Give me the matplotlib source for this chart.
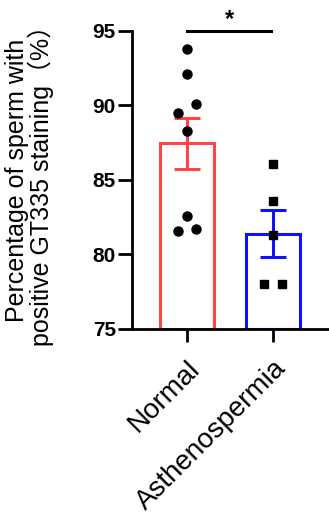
import matplotlib.pyplot as plt
import matplotlib.transforms as mtransforms
import numpy as np

plt.rcParams['font.family'] = ['Liberation Sans', 'Noto Sans CJK SC', 'DejaVu Sans']

groups = ['Normal', 'Asthenospermia']
normalVals = [93.8, 92.1, 90.1, 89.5, 88.3, 82.6, 81.6, 81.7]
normalJitter = [0.0, 0.0, 0.31, -0.31, 0.0, 0.0, -0.31, 0.31]
asthenoVals = [86.1, 83.6, 81.3, 78.0, 78.0]
asthenoJitter = [0.0, 0.0, 0.0, -0.31, 0.31]
means = [87.45, 81.4]
sems = [1.73, 1.6]
barColors = ['#FF4545', '#1010FF']

fig = plt.figure(figsize=(3.29, 5.14), dpi=100)
ax = fig.add_axes([0.401, 0.36, 0.6, 0.58])

x = np.arange(len(groups))
ax.bar(x, np.array(means) - 75, bottom=75, width=0.63, facecolor='none',
       edgecolor=barColors, linewidth=2.2, zorder=2)
for i in range(len(groups)):
    ax.errorbar(x[i], means[i], yerr=sems[i], color=barColors[i], capsize=9.5,
                capthick=2.2, elinewidth=2.2, zorder=3)

ax.plot(x[0] + np.array(normalJitter) * 0.34, normalVals, 'o', color='black',
        markersize=6.5, zorder=4, clip_on=False)
ax.plot(x[1] + np.array(asthenoJitter) * 0.34, asthenoVals, 's', color='black',
        markersize=5.8, zorder=4, clip_on=False)

# significance bar
ax.plot([0, 0.977], [95, 95], color='black', linewidth=2.2, clip_on=False)
ax.text(0.49, 95.3, '*', ha='center', va='baseline', fontsize=17, fontweight='bold')

ax.set_xlim(-0.64, 1.65)
ax.set_ylim(75, 95)
ax.set_yticks([75, 80, 85, 90, 95])
ax.set_xticks(x)
ax.set_xticklabels(groups, rotation=45, ha='right', va='top',
                   rotation_mode='anchor', fontsize=20)
shift = mtransforms.ScaledTranslation(-5 / 72, 0, fig.dpi_scale_trans)
for lab in ax.get_xticklabels():
    lab.set_transform(lab.get_transform() + shift)
for lab in ax.get_yticklabels():
    lab.set_fontweight('bold')
    lab.set_fontsize(15)

ax.spines['top'].set_visible(False)
ax.spines['right'].set_visible(False)
ax.spines['left'].set_linewidth(2)
ax.spines['bottom'].set_linewidth(2)
ax.tick_params(axis='both', width=2, length=10, color='black')
ax.tick_params(axis='y', pad=1.5)
ax.tick_params(axis='x', length=9, pad=10)

ax.set_ylabel('Percentage of sperm with\npositive GT335 staining（%）',
              fontsize=18, linespacing=0.95)
ax.yaxis.set_label_coords(-0.395, 0.5)

fig.savefig('out.png', dpi=100)
